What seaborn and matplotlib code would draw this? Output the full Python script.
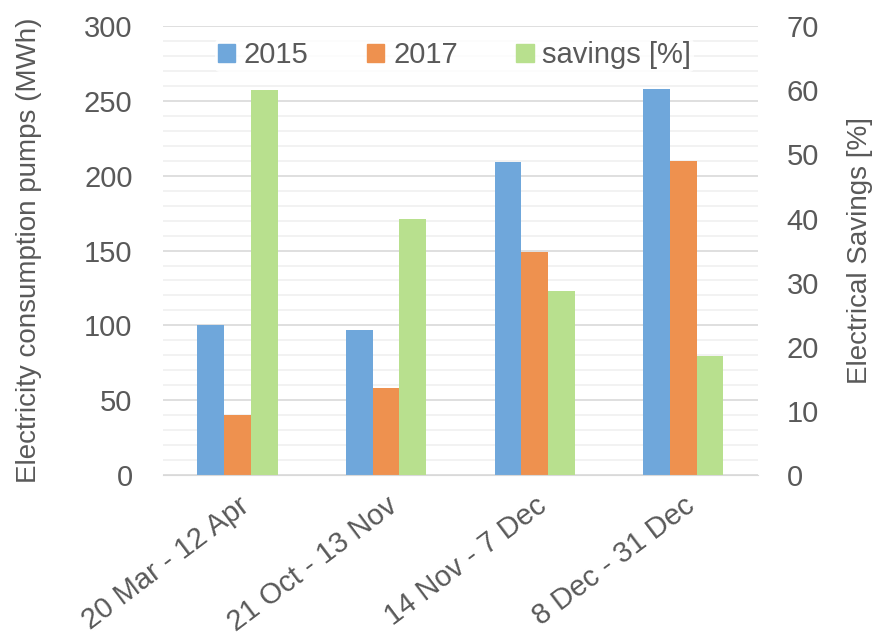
import pandas as pd
import matplotlib.pyplot as plt
import matplotlib.patches as mpatches
from matplotlib.ticker import MultipleLocator
import seaborn as sns

sns.set_style("white")
plt.rcParams['font.family'] = ['Liberation Sans', 'DejaVu Sans']

# Data
periods = ['20 Mar - 12 Apr', '21 Oct - 13 Nov', '14 Nov - 7 Dec', '8 Dec - 31 Dec']
cons_2015 = [100, 97, 209, 258]
cons_2017 = [40, 58, 149, 210]
savings = [60, 40, 28.7, 18.6]

series = ['2015', '2017', 'savings [%]']
colors = ['#6fa7db', '#ee914f', '#b8e08e']
text_col = '#595959'

df_cons = pd.DataFrame({
    'Period': periods * 2,
    'Series': ['2015'] * 4 + ['2017'] * 4,
    'Value': cons_2015 + cons_2017,
})
df_sav = pd.DataFrame({'Period': periods, 'Series': 'savings [%]', 'Value': savings})
palette = dict(zip(series, colors))

fig, ax = plt.subplots(figsize=(8.82, 6.4), dpi=100)
fig.subplots_adjust(left=0.185, right=0.859, top=0.959, bottom=0.258)
ax2 = ax.twinx()

bar_kw = dict(x='Period', y='Value', hue='Series', hue_order=series, order=periods,
              palette=palette, width=0.54, gap=0, dodge=True, saturation=1,
              linewidth=0, legend=False)
sns.barplot(data=df_cons, ax=ax, **bar_kw)
sns.barplot(data=df_sav, ax=ax2, **bar_kw)

# Left axis: consumption
ax.set_ylim(0, 300)
ax.yaxis.set_major_locator(MultipleLocator(50))
ax.yaxis.set_minor_locator(MultipleLocator(10))
ax.grid(True, which='major', axis='y', color='#d9d9d9', linewidth=1.2)
ax.grid(True, which='minor', axis='y', color='#f0f0f0', linewidth=1.2)
ax.set_axisbelow(True)
ax.set_ylabel('Electricity consumption pumps (MWh)', fontsize=20, color=text_col, labelpad=30)
ax.set_xlabel('')

# Right axis: savings
ax2.set_ylim(0, 70)
ax2.yaxis.set_major_locator(MultipleLocator(10))
ax2.set_ylabel('Electrical Savings [%]', fontsize=20, color=text_col, labelpad=20)
ax2.set_xlabel('')

for a in (ax, ax2):
    for s in a.spines.values():
        s.set_visible(False)
    a.tick_params(axis='y', which='both', length=0, labelsize=21, labelcolor=text_col)
    a.tick_params(axis='x', length=0)
ax.tick_params(axis='y', pad=22)
ax2.tick_params(axis='y', pad=21)
ax.spines['bottom'].set_visible(True)
ax.spines['bottom'].set_color('#d9d9d9')

ax.set_xticks(range(len(periods)))
ax.set_xticklabels(periods, rotation=37, ha='right', rotation_mode='anchor',
                   fontsize=21, color=text_col)
ax.tick_params(axis='x', pad=12)

handles = [mpatches.Patch(color=c, label=s) for s, c in zip(series, colors)]
leg = ax2.legend(handles=handles, loc='upper center', bbox_to_anchor=(0.49, 1.005), ncol=3,
                 frameon=True, fontsize=21, handlelength=0.6, handleheight=0.6,
                 handletextpad=0.3, columnspacing=2.0, borderpad=0.1)
leg.get_frame().set_facecolor('white')
leg.get_frame().set_edgecolor('none')
for t in leg.get_texts():
    t.set_color(text_col)

plt.savefig('out.png', dpi=100)
